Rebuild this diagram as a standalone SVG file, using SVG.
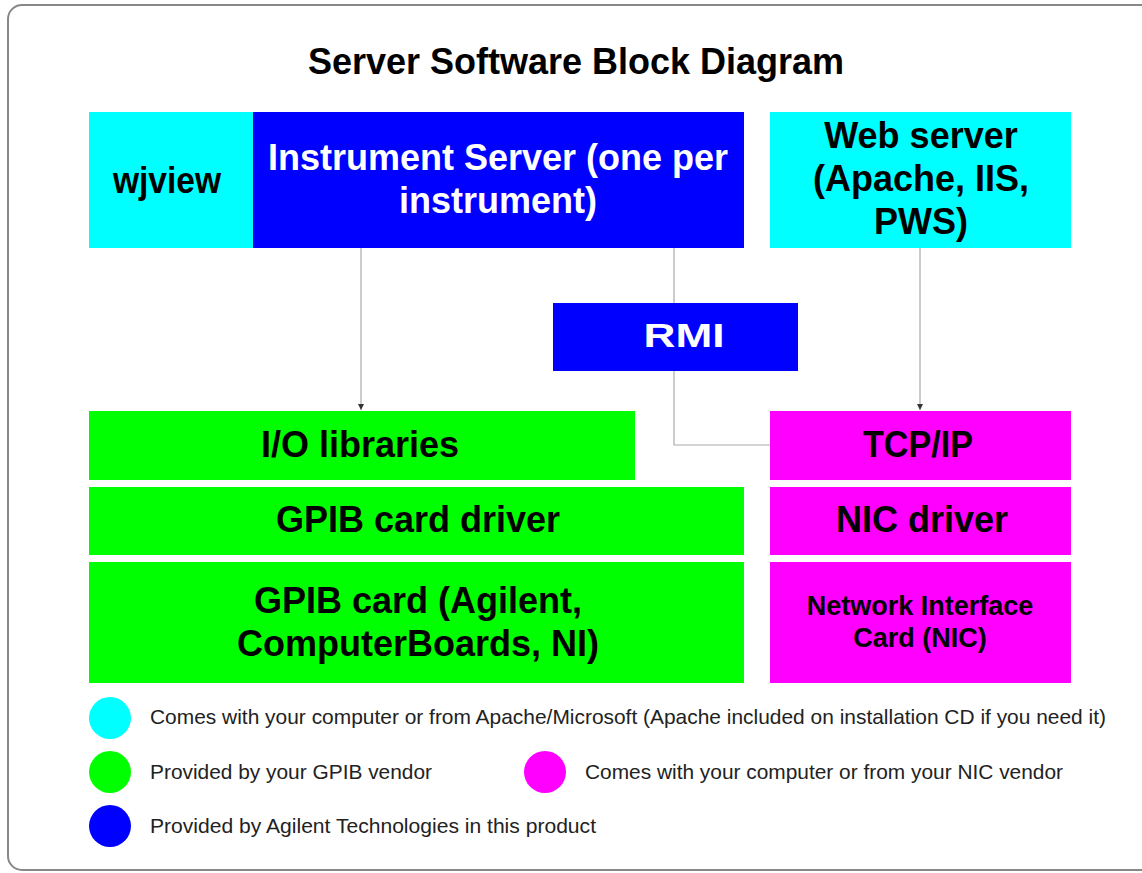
<svg xmlns="http://www.w3.org/2000/svg" width="1142" height="873" viewBox="0 0 1142 873">
<style>
.bx{stroke:none}
.cy{fill:#00FFFF}.bl{fill:#0000FF}.gr{fill:#00FF00}.mg{fill:#FF00FF}
.t{font-family:"Liberation Sans",Arial,sans-serif;font-weight:bold;font-size:36px;text-anchor:middle}
.w{fill:#FFFFFF}.k{fill:#000000}
.lg{font-family:"Liberation Sans",Arial,sans-serif;font-size:21px;fill:#222}
.cn{fill:none;stroke:#AAAAAA;stroke-width:1.2}
</style>
<defs>
<marker id="ah" markerWidth="8" markerHeight="8" refX="6" refY="4" orient="auto" markerUnits="userSpaceOnUse">
<path d="M0,1 L6,4 L0,7 Z" fill="#333"/>
</marker>
</defs>
<rect x="8" y="5" width="1150" height="865" rx="14" fill="#FFFFFF" stroke="#888888" stroke-width="2"/>
<text class="t k" x="576" y="74">Server Software Block Diagram</text>
<g id="connectors">
<line class="cn" x1="361" y1="248" x2="361" y2="410" marker-end="url(#ah)"/>
<line class="cn" x1="920" y1="248" x2="920" y2="410" marker-end="url(#ah)"/>
<polyline class="cn" points="674,248 674,445 770,445"/>
</g>
<g id="wjview"><rect class="bx cy" x="89" y="112" width="164" height="136"/><text class="t k" x="167" y="193" textLength="108" lengthAdjust="spacingAndGlyphs">wjview</text></g>
<g id="instrument-server"><rect class="bx bl" x="253" y="112" width="491" height="136"/><text class="t w" x="498" y="170">Instrument Server (one per</text><text class="t w" x="498" y="213">instrument)</text></g>
<g id="web-server"><rect class="bx cy" x="770" y="112" width="301" height="136"/><text class="t k" x="921" y="148">Web server</text><text class="t k" x="921" y="191">(Apache, IIS,</text><text class="t k" x="921" y="234">PWS)</text></g>
<g id="rmi"><rect class="bx bl" x="553" y="303" width="245" height="68"/><text class="t w" x="684" y="347" style="font-size:34px" textLength="81" lengthAdjust="spacingAndGlyphs">RMI</text></g>
<g id="io-libraries"><rect class="bx gr" x="89" y="411" width="546" height="69"/><text class="t k" x="360" y="457">I/O libraries</text></g>
<g id="gpib-driver"><rect class="bx gr" x="89" y="487" width="655" height="68"/><text class="t k" x="418" y="532">GPIB card driver</text></g>
<g id="gpib-card"><rect class="bx gr" x="89" y="562" width="655" height="121"/><text class="t k" x="418" y="613">GPIB card (Agilent,</text><text class="t k" x="418" y="656">ComputerBoards, NI)</text></g>
<g id="tcpip"><rect class="bx mg" x="770" y="411" width="301" height="69"/><text class="t k" x="918" y="457" textLength="110" lengthAdjust="spacingAndGlyphs">TCP/IP</text></g>
<g id="nic-driver"><rect class="bx mg" x="770" y="487" width="301" height="68"/><text class="t k" x="922" y="532">NIC driver</text></g>
<g id="nic"><rect class="bx mg" x="770" y="562" width="301" height="121"/><text class="t k" x="920" y="615" style="font-size:27px">Network Interface</text><text class="t k" x="920" y="647" style="font-size:27px">Card (NIC)</text></g>
<g id="legend">
<ellipse cx="110" cy="718" rx="21" ry="21" class="cy"/>
<text class="lg" x="150" y="724" textLength="956" lengthAdjust="spacingAndGlyphs">Comes with your computer or from Apache/Microsoft (Apache included on installation CD if you need it)</text>
<ellipse cx="110" cy="772" rx="21" ry="21" class="gr"/>
<text class="lg" x="150" y="779" textLength="282" lengthAdjust="spacingAndGlyphs">Provided by your GPIB vendor</text>
<ellipse cx="545" cy="772" rx="21" ry="21" class="mg"/>
<text class="lg" x="585" y="779" textLength="478" lengthAdjust="spacingAndGlyphs">Comes with your computer or from your NIC vendor</text>
<ellipse cx="110" cy="826" rx="21" ry="21" class="bl"/>
<text class="lg" x="150" y="833" textLength="446" lengthAdjust="spacingAndGlyphs">Provided by Agilent Technologies in this product</text>
</g>
</svg>
